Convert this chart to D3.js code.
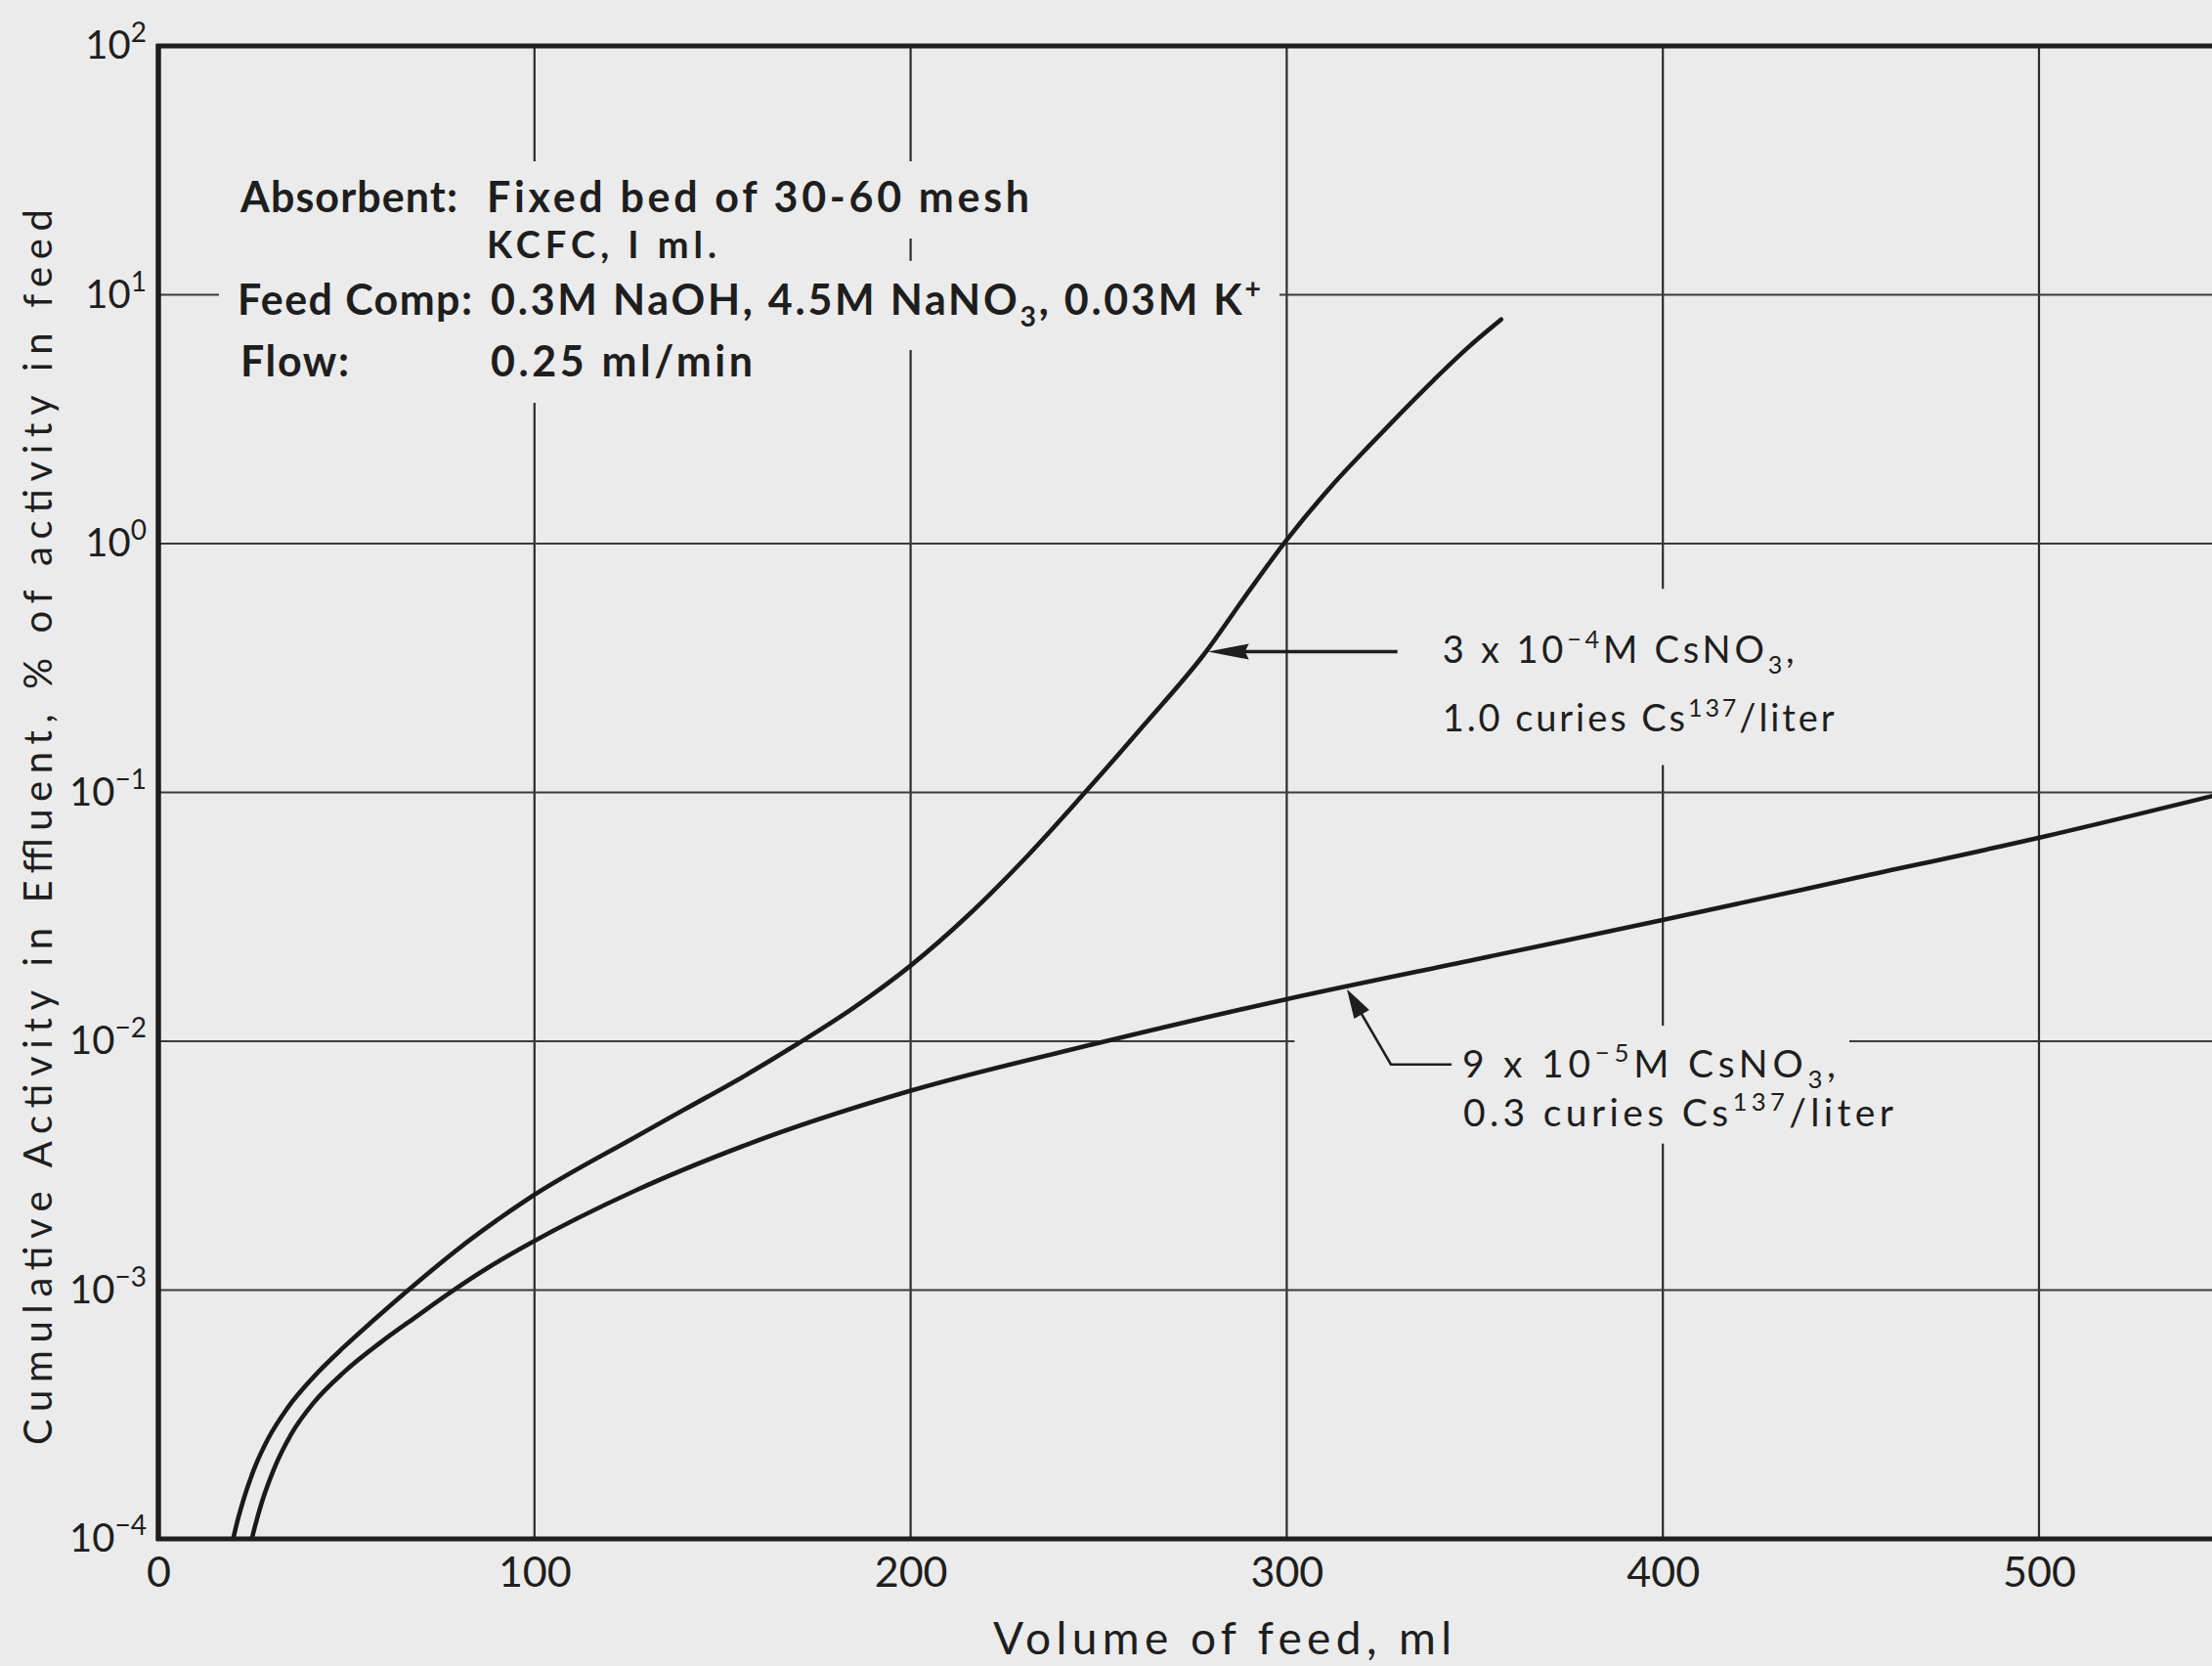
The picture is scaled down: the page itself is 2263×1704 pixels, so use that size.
<!DOCTYPE html>
<html>
<head>
<meta charset="utf-8">
<script src="https://cdn.jsdelivr.net/npm/d3@7/dist/d3.min.js"></script>
<style>
    body { margin: 0; background: #ebebeb; }
    svg { display: block; }
    text { fill: #1e1e1e; font-family: Lato, "Liberation Sans", sans-serif; }
</style>
</head>
<body>
<div id="chart"></div>
<script>
// axis ticks
const xTicks = [0, 100, 200, 300, 400, 500];
const yExponents = [-4, -3, -2, -1, 0, 1, 2];

// 3 x 10^-4 M CsNO3, 1.0 curies Cs137/liter  (volume of feed, ml -> % of activity)
const feedA = [19.9, 20.86, 22.35, 25.34, 29.32, 34.29, 42.25, 49.21, 57.17, 65.6, 82.0, 98.4, 126.8, 140, 155.4, 170, 185, 200, 215, 230, 246, 262, 278, 290, 300, 312, 323, 339, 348, 357];
const actA = [1.0e-4, 1.153e-4, 1.39e-4, 1.89e-4, 2.55e-4, 3.35e-4, 4.64e-4, 5.88e-4, 7.55e-4, 9.75e-4, 1.556e-3, 2.33e-3, 4.12e-3, 5.33e-3, 7.19e-3, 9.77e-3, 0.01368, 0.02014, 0.03177, 0.05346, 0.0986, 0.1862, 0.3589, 0.6457, 1.035, 1.71, 2.57, 4.53, 6.10, 7.96];

// 9 x 10^-5 M CsNO3, 0.3 curies Cs137/liter
const feedB = [24.85, 25.84, 27.33, 30.81, 35.28, 41.25, 49.21, 59.15, 68.6, 77.55, 88.0, 98.44, 126.8, 155.4, 199.6, 248.9, 299.7, 350, 399.9, 450, 500.1, 547];
const actB = [1.0e-4, 1.145e-4, 1.374e-4, 1.92e-4, 2.63e-4, 3.52e-4, 4.66e-4, 6.17e-4, 7.83e-4, 9.77e-4, 1.24e-3, 1.53e-3, 2.51e-3, 3.79e-3, 6.30e-3, 9.75e-3, 0.01473, 0.0213, 0.0307, 0.0449, 0.0658, 0.0975];

// where the label arrows touch the curves (ml, %)
const arrowA = [278.5, 0.368];
const arrowB = [316, 0.0162];

const W = 2263, H = 1704;
const bg = "#ebebeb";

const svg = d3.select("#chart").append("svg")
    .attr("width", W)
    .attr("height", H);

svg.append("rect").attr("width", W).attr("height", H).attr("fill", bg);

const x = d3.scaleLinear().domain([0, 500]).range([162, 2086]);
const y = d3.scaleLog().domain([1e-4, 1e2]).range([1574, 47]);

svg.append("clipPath").attr("id", "plotclip")
    .append("rect")
    .attr("x", x(0)).attr("y", y(1e2))
    .attr("width", W - x(0)).attr("height", y(1e-4) - y(1e2));

// grid
const grid = svg.append("g");
grid.selectAll(".vgrid")
    .data(xTicks.filter(d => d > 0))
    .enter().append("line")
    .attr("class", "vgrid")
    .attr("x1", d => x(d)).attr("x2", d => x(d))
    .attr("y1", y(1e2)).attr("y2", y(1e-4))
    .attr("stroke", "#2c2c2c").attr("stroke-width", 2.2);
grid.selectAll(".hgrid")
    .data(yExponents.slice(1, -1))
    .enter().append("line")
    .attr("class", "hgrid")
    .attr("x1", x(0)).attr("x2", W)
    .attr("y1", d => y(Math.pow(10, d))).attr("y2", d => y(Math.pow(10, d)))
    .attr("stroke", "#3a3a3a").attr("stroke-width", 2.2);

// background patches that break the grid behind the lettering
const maskLayer = svg.append("g");
const curveLayer = svg.append("g").attr("clip-path", "url(#plotclip)");
const frame = svg.append("g");
const textLayer = svg.append("g");

function maskBehind(node, padX, padTop, padBottom) {
    const b = node.getBBox();
    maskLayer.append("rect")
        .attr("x", b.x - padX).attr("y", b.y - padTop)
        .attr("width", b.width + 2 * padX).attr("height", b.height + padTop + padBottom)
        .attr("fill", bg);
}

// text with super / subscripts: parts = [[string, "" | "sup" | "sub"], ...]
function richText(g, px, py, parts, size, weight, len) {
    const t = g.append("text")
        .attr("x", px).attr("y", py)
        .style("font-size", size + "px")
        .style("font-weight", weight);
    let shift = 0;
    parts.forEach(p => {
        const target = p[1] === "sup" ? -0.4 * size : p[1] === "sub" ? 0.28 * size : 0;
        t.append("tspan")
            .attr("dy", target - shift)
            .style("font-size", p[1] ? (0.66 * size) + "px" : null)
            .text(p[0]);
        shift = target;
    });
    if (len) t.attr("textLength", len).attr("lengthAdjust", "spacing");
    return t;
}

// frame: left, bottom and top rules
frame.append("line")
    .attr("x1", x(0)).attr("x2", x(0)).attr("y1", y(1e2) - 2).attr("y2", y(1e-4) + 2)
    .attr("stroke", "#1e1e1e").attr("stroke-width", 5.5);
frame.append("line")
    .attr("x1", x(0) - 2).attr("x2", W).attr("y1", y(1e-4)).attr("y2", y(1e-4))
    .attr("stroke", "#1e1e1e").attr("stroke-width", 5);
frame.append("line")
    .attr("x1", x(0) - 2).attr("x2", W).attr("y1", y(1e2)).attr("y2", y(1e2))
    .attr("stroke", "#1e1e1e").attr("stroke-width", 5);

// curves
const line = d3.line()
    .x(d => x(d[0]))
    .y(d => y(d[1]))
    .curve(d3.curveMonotoneX);

curveLayer.append("path")
    .datum(d3.zip(feedA, actA))
    .attr("d", line)
    .attr("fill", "none")
    .attr("stroke", "#1a1a1a")
    .attr("stroke-width", 4.6)
    .attr("stroke-linecap", "round");

curveLayer.append("path")
    .datum(d3.zip(feedB, actB))
    .attr("d", line)
    .attr("fill", "none")
    .attr("stroke", "#1a1a1a")
    .attr("stroke-width", 4.6)
    .attr("stroke-linecap", "round");

// x axis
const xAxis = textLayer.append("g")
    .attr("transform", `translate(0,${y(1e-4)})`)
    .call(d3.axisBottom(x).tickValues(xTicks).tickSize(0).tickPadding(18));
xAxis.select(".domain").remove();
xAxis.selectAll(".tick text")
    .style("font-size", "43px")
    .style("font-family", "Lato, 'Liberation Sans', sans-serif")
    .attr("fill", "#2a2a2a");

// y axis: 10 with exponent
const yAxis = textLayer.append("g")
    .attr("transform", `translate(${x(0)},0)`)
    .call(d3.axisLeft(y).tickValues(yExponents.map(e => Math.pow(10, e))).tickSize(0).tickPadding(12).tickFormat(""));
yAxis.select(".domain").remove();
yAxis.selectAll(".tick text").each(function (d) {
    const t = d3.select(this)
        .style("font-size", "40px")
        .style("font-family", "Lato, 'Liberation Sans', sans-serif")
        .attr("fill", "#2a2a2a");
    t.append("tspan").text("10");
    const e = Math.round(Math.log10(d));
    t.append("tspan")
        .attr("dy", -17)
        .style("font-size", "28px")
        .text(e < 0 ? "\u2212" + (-e) : String(e));
});

// axis titles
textLayer.append("text")
    .attr("x", 1016)
    .attr("y", 1692)
    .style("font-size", "46px")
    .attr("fill", "#2a2a2a")
    .attr("textLength", 469).attr("lengthAdjust", "spacing")
    .text("Volume of feed, ml");

textLayer.append("text")
    .attr("transform", "translate(53,846) rotate(-90)")
    .attr("text-anchor", "middle")
    .style("font-size", "40px")
    .attr("fill", "#2a2a2a")
    .attr("textLength", 1264).attr("lengthAdjust", "spacing")
    .text("Cumulative Activity in Effluent, % of activity in feed");

// conditions block
const info = [
    { px: 246, py: 217, size: 43, parts: [["Absorbent:", ""]], len: 222 },
    { px: 498, py: 217, size: 43, parts: [["Fixed bed of 30-60 mesh", ""]], len: 555 },
    { px: 498, py: 264, size: 38, parts: [["KCFC, I ml.", ""]], len: 235 },
    { px: 243, py: 322, size: 43, parts: [["Feed Comp:", ""]], len: 240 },
    { px: 502, py: 322, size: 43, parts: [["0.3M NaOH, 4.5M NaNO", ""], ["3", "sub"], [", 0.03M K", ""], ["+", "sup"]], len: 788 },
    { px: 246, py: 385, size: 43, parts: [["Flow:", ""]], len: 111 },
    { px: 502, py: 385, size: 43, parts: [["0.25 ml/min", ""]], len: 268 }
];
info.forEach(r => {
    const t = richText(textLayer, r.px, r.py, r.parts, r.size, 700, r.len);
    maskBehind(t.node(), 19, 10, 18);
});

// label for curve A
const ax = x(arrowA[0]), ay = y(arrowA[1]);
textLayer.append("line")
    .attr("x1", ax + 36).attr("x2", ax + 196)
    .attr("y1", ay).attr("y2", ay)
    .attr("stroke", "#1e1e1e").attr("stroke-width", 3.5);
textLayer.append("path")
    .attr("d", `M${ax + 2},${ay} L${ax + 44},${ay - 8} L${ax + 40},${ay} L${ax + 44},${ay + 8} Z`)
    .attr("fill", "#1e1e1e");
const la1 = richText(textLayer, ax + 242, ay + 12,
    [["3 x 10", ""], ["\u2212" + "4", "sup"], ["M CsNO", ""], ["3", "sub"], [",", ""]], 38, 400, 360);
const la2 = richText(textLayer, ax + 242, ay + 82,
    [["1.0 curies Cs", ""], ["137", "sup"], ["/liter", ""]], 38, 400, 401);
maskBehind(la1.node(), 16, 36, 8);
maskBehind(la2.node(), 16, 8, 26);

// label for curve B
const bx = x(arrowB[0]), by = y(arrowB[1]);
const elbow = [bx + 45, by + 77];
textLayer.append("path")
    .attr("d", `M${bx + 6},${by + 10} L${elbow[0]},${elbow[1]} L${bx + 107},${elbow[1]}`)
    .attr("fill", "none")
    .attr("stroke", "#1e1e1e").attr("stroke-width", 2.6);
{
    const dx = elbow[0] - bx, dy = elbow[1] - by;
    const L = Math.hypot(dx, dy), ux = dx / L, uy = dy / L;
    const hl = 30, hw = 9;
    const baseX = bx + ux * hl, baseY = by + uy * hl;
    textLayer.append("path")
        .attr("d", `M${bx},${by} L${baseX - uy * hw},${baseY + ux * hw} L${baseX + uy * hw},${baseY - ux * hw} Z`)
        .attr("fill", "#1e1e1e");
}
const lb1 = richText(textLayer, bx + 118, by + 90,
    [["9 x 10", ""], ["\u2212" + "5", "sup"], ["M CsNO", ""], ["3", "sub"], [",", ""]], 39, 400, 382);
const lb2 = richText(textLayer, bx + 119, by + 140,
    [["0.3 curies Cs", ""], ["137", "sup"], ["/liter", ""]], 39, 400, 440);
maskBehind(lb1.node(), 14, 12, 8);
maskBehind(lb2.node(), 14, 8, 10);
{
    const b = lb1.node().getBBox();
    maskLayer.append("rect")
        .attr("x", x(300) + 8).attr("y", b.y - 12)
        .attr("width", b.x - x(300) - 8).attr("height", 34)
        .attr("fill", bg);
}
</script>
</body>
</html>
